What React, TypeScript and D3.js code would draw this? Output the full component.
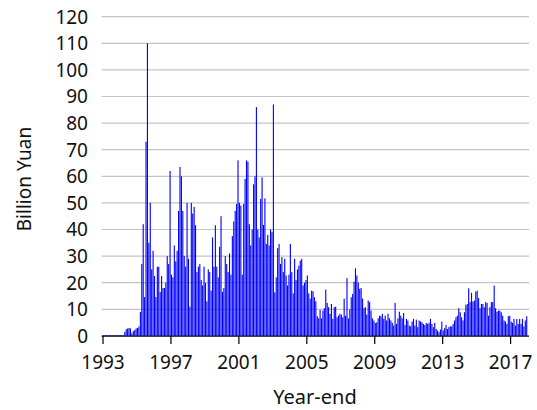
import React from "react";
import * as d3 from "d3";

// Monthly values (billion yuan), Jan 1993 – Dec 2017, one row per year
const y1993 = [0.3, 0.3, 0.3, 0.3, 0.3, 0.3, 0.3, 0.3, 0.3, 0.3, 0.3, 0.3];
const y1994 = [0.3, 0.3, 0.3, 1.5, 2.5, 2.8, 3, 2.8, 1, 1.8, 2.2, 2.8];
const y1995 = [3, 3.5, 9, 27, 42, 14.6, 73, 110, 35, 50, 25, 32];
const y1996 = [22.5, 14.6, 26, 26, 16.5, 22.5, 18, 18, 20, 30, 27, 62];
const y1997 = [23, 22, 34, 28, 32, 47, 63.5, 60, 47, 30, 26, 50];
const y1998 = [29, 11, 50, 46, 48.5, 41.6, 24, 26, 27, 21, 19, 26];
const y1999 = [20, 13, 25, 24, 17, 37, 26, 41.6, 26, 22, 33.5, 45];
const y2000 = [16.6, 18, 30, 27, 24, 31, 23, 37.5, 43, 47, 49.6, 66];
const y2001 = [50, 49, 23, 49.6, 59, 66, 65.5, 42, 34, 40, 57, 60];
const y2002 = [86, 40, 37, 51.5, 59.6, 41.7, 51.7, 34.6, 38, 34, 40, 39];
const y2003 = [87, 16.4, 22, 33, 34.6, 27, 29.6, 24, 29, 22.7, 19, 23];
const y2004 = [34.6, 24, 16, 29, 21, 25, 26.4, 28.3, 29, 19, 20, 21];
const y2005 = [22.7, 16, 14, 17, 16.8, 14.5, 13, 7.4, 6.6, 9.8, 6.6, 9.5];
const y2006 = [10.4, 17.4, 12.4, 10.8, 8.3, 12, 6.4, 10.8, 11, 7, 7.6, 8.3];
const y2007 = [8, 7, 14, 7.6, 21.7, 6.6, 10, 14.5, 15.8, 20.4, 25.4, 22.7];
const y2008 = [20, 17.7, 18, 14, 10.4, 10.8, 8, 13.3, 12.7, 9.5, 6.6, 5.8];
const y2009 = [4.9, 5.1, 6.6, 7.6, 7.4, 8.3, 6.4, 7.6, 5.8, 8.3, 6.6, 5.8];
const y2010 = [4.9, 3.9, 12.4, 4.5, 6.6, 9.1, 7.6, 6.6, 8.6, 4.1, 6.4, 5.8];
const y2011 = [3.9, 3.6, 5.4, 6.4, 3.9, 6.1, 3.3, 5.8, 5.4, 5.1, 4.5, 4.1];
const y2012 = [4.9, 4.5, 4.9, 6.4, 4.5, 3.3, 4.9, 2.6, 2, 1.4, 2.4, 5.4];
const y2013 = [2, 2.9, 4.1, 2.6, 3.3, 3.6, 3.6, 4.5, 5.8, 7, 7.6, 10.4];
const y2014 = [8.9, 7, 5.8, 8.9, 11.7, 12, 17.9, 12.7, 16.2, 12.9, 13.3, 16.7];
const y2015 = [17, 14.2, 10.4, 12, 12, 10.8, 12.7, 12.4, 7.6, 10.8, 12.7, 12.7];
const y2016 = [18.9, 10.4, 9.1, 9.5, 9.5, 8.9, 7.6, 5.8, 5.4, 4.5, 7.4, 7.6];
const y2017 = [5.4, 4.9, 6.4, 3.9, 6.4, 4.5, 6.4, 4.5, 6.4, 3.6, 5.8, 7.4];

const values: number[] = [
  ...y1993, ...y1994, ...y1995, ...y1996, ...y1997, ...y1998, ...y1999,
  ...y2000, ...y2001, ...y2002, ...y2003, ...y2004, ...y2005, ...y2006,
  ...y2007, ...y2008, ...y2009, ...y2010, ...y2011, ...y2012, ...y2013,
  ...y2014, ...y2015, ...y2016, ...y2017,
];

const startYear = 1993;
const xTickYears = [1993, 1997, 2001, 2005, 2009, 2013, 2017];
const yTicks = [0, 10, 20, 30, 40, 50, 60, 70, 80, 90, 100, 110, 120];
const xTitle = "Year-end";
const yTitle = "Billion Yuan";

const W = 537;
const H = 410;
const FONT = "'Noto Sans', 'Open Sans', sans-serif";

export default function App() {
  const x = d3.scaleLinear().domain([-1, 301]).range([101.6, 529]);
  const y = d3.scaleLinear().domain([0, 120]).range([335.9, 16.7]);
  const step = x(1) - x(0);
  const bw = step * 0.78;

  return (
    <svg
      width={W}
      height={H}
      style={{ position: "absolute", left: 0, top: 0, background: "#fff" }}
    >
      {/* gridlines */}
      {yTicks.slice(1).map((t) => (
        <line
          key={"g" + t}
          x1={x(-1)}
          x2={x(301)}
          y1={y(t)}
          y2={y(t)}
          stroke="#c4c4c4"
          strokeWidth={1.2}
        />
      ))}
      {/* bars */}
      {values.map((v, i) => (
        <rect
          key={i}
          x={x(i)}
          y={y(v)}
          width={bw}
          height={Math.max(0, y(0) - y(v))}
          fill="#0000ff"
        />
      ))}
      {/* x axis */}
      <line x1={x(-1)} x2={x(301)} y1={y(0) + 0.3} y2={y(0) + 0.3} stroke="#000" strokeWidth={1.2} />
      {xTickYears.map((yr) => {
        const xp = x((yr - startYear) * 12);
        return (
          <g key={yr}>
            <line x1={xp} x2={xp} y1={y(0)} y2={y(0) + 8} stroke="#000" strokeWidth={1.2} />
            <text
              x={xp}
              y={368.5}
              textAnchor="middle"
              fontFamily={FONT}
              fontSize={19}
              fill="#111"
            >
              {yr}
            </text>
          </g>
        );
      })}
      {/* y tick labels */}
      {yTicks.map((t) => (
        <text
          key={"y" + t}
          x={88}
          y={y(t)}
          dy="0.36em"
          textAnchor="end"
          fontFamily={FONT}
          fontSize={19}
          fill="#111"
        >
          {t}
        </text>
      ))}
      {/* axis titles */}
      <text x={315} y={404} textAnchor="middle" fontFamily={FONT} fontSize={20} fill="#111">
        {xTitle}
      </text>
      <text
        transform={`translate(31,179) rotate(-90)`}
        textAnchor="middle"
        fontFamily={FONT}
        fontSize={19}
        fill="#111"
      >
        {yTitle}
      </text>
    </svg>
  );
}
